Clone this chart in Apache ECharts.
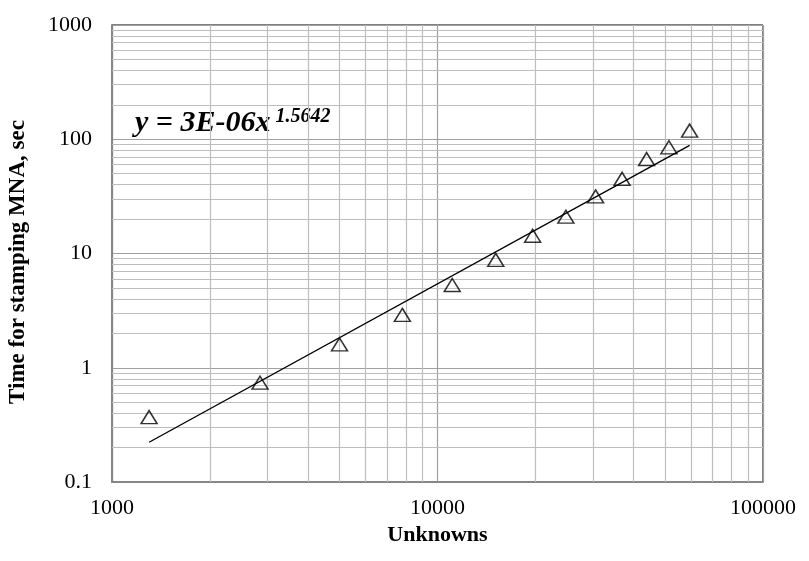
<!DOCTYPE html>
<html>
<head>
<meta charset="utf-8">
<script src="https://cdn.jsdelivr.net/npm/echarts@6/dist/echarts.min.js"></script>
<style>
  html, body { margin: 0; padding: 0; background: #fff; }
  #chart { width: 809px; height: 561px; }
</style>
</head>
<body>
<div id="chart"></div>
<script>
// Measured stamping time against number of unknowns
const unknowns = [1300, 2850, 5000, 7800, 11100, 15100, 19600, 24800, 30600, 36900, 43900, 51400, 59500];
const stampTime = [0.37, 0.74, 1.6, 2.9, 5.3, 8.8, 14.3, 21, 31.6, 45, 67, 85, 119];

// Power-law trend: y = a * x^b
const trendCoef = 3e-6;
const trendExp = 1.5642;

const xTicks = [1000, 10000, 100000];
const xTickLabels = ['1000', '10000', '100000'];
const yTicks = [0.1, 1, 10, 100, 1000];
const yTickLabels = ['0.1', '1', '10', '100', '1000'];

const serif = '"Liberation Serif", "Times New Roman", serif';

function tickLabel(ticks, labels) {
  return function (v) {
    let best = 0, bestD = Infinity;
    ticks.forEach(function (t, i) {
      const d = Math.abs(Math.log10(t) - Math.log10(v));
      if (d < bestD) { bestD = d; best = i; }
    });
    return bestD < 1e-6 ? labels[best] : '';
  };
}

// minor log grid: 2..9 within each decade
function minorValues(ticks) {
  const out = [];
  for (let i = 0; i < ticks.length - 1; i++) {
    for (let k = 2; k <= 9; k++) out.push(ticks[i] * k);
  }
  return out;
}

const trendData = [unknowns[0], unknowns[unknowns.length - 1]].map(function (x) {
  return [x, trendCoef * Math.pow(x, trendExp)];
});

const minorLineStyle = { color: '#bdbdbd', width: 1.2, type: 'solid' };
const minorMarks = minorValues(xTicks).map(function (v) { return { xAxis: v }; })
  .concat(minorValues(yTicks).map(function (v) { return { yAxis: v }; }));

const chart = echarts.init(document.getElementById('chart'), null, { renderer: 'canvas' });

chart.setOption({
  animation: false,
  backgroundColor: '#ffffff',
  grid: {
    left: 112, right: 46, top: 25, bottom: 79,
    show: true, borderColor: '#000000', borderWidth: 1, backgroundColor: 'transparent'
  },
  xAxis: {
    type: 'log', logBase: 10, min: 1000, max: 100000,
    axisLine: { show: true, lineStyle: { color: '#868686', width: 2 } },
    axisTick: { show: false },
    axisLabel: { formatter: tickLabel(xTicks, xTickLabels), color: '#000', fontFamily: serif, fontSize: 22, margin: 15 },
    splitLine: { show: true, lineStyle: { color: '#a0a0a0', width: 1.2 } },
    name: 'Unknowns', nameLocation: 'middle', nameGap: 42,
    nameTextStyle: { color: '#000', fontFamily: serif, fontSize: 22, fontWeight: 'bold' }
  },
  yAxis: {
    type: 'log', logBase: 10, min: 0.1, max: 1000,
    axisLine: { show: true, lineStyle: { color: '#868686', width: 2 } },
    axisTick: { show: false },
    axisLabel: { formatter: tickLabel(yTicks, yTickLabels), color: '#000', fontFamily: serif, fontSize: 22, margin: 20 },
    splitLine: { show: true, lineStyle: { color: '#a0a0a0', width: 1.2 } }
  },
  graphic: [
    {
      type: 'text', x: 18, y: 262, rotation: Math.PI / 2,
      style: {
        text: 'Time for stamping MNA, sec', fill: '#000',
        font: 'bold 23px ' + serif, align: 'center', verticalAlign: 'middle'
      }
    },
    {
      type: 'text', x: 135, y: 123,
      style: {
        text: '{a|y = 3E-06x}{b|1.5642}',
        verticalAlign: 'middle', align: 'left',
        rich: {
          a: { font: 'italic bold 30px ' + serif, fill: '#000', lineHeight: 34 },
          b: { font: 'italic bold 20px ' + serif, fill: '#000', lineHeight: 34, verticalAlign: 'top', padding: [1, 0, 0, 5] }
        }
      }
    }
  ],
  series: [
    {
      name: 'grid', type: 'line', data: [], z: 1, silent: true,
      markLine: {
        silent: true, symbol: 'none', label: { show: false }, z: 1,
        lineStyle: minorLineStyle, emphasis: { disabled: true },
        data: minorMarks
      }
    },
    {
      name: 'trend', type: 'line', data: trendData, z: 6,
      showSymbol: false, silent: true,
      lineStyle: { color: '#000', width: 1.4 }
    },
    {
      name: 'time', type: 'scatter', data: unknowns.map(function (x, i) { return [x, stampTime[i]]; }),
      z: 7, symbol: 'triangle', symbolSize: [16, 13],
      itemStyle: { color: 'rgba(255,255,255,0)', borderColor: '#000', borderWidth: 1.5 }
    }
  ]
});
</script>
</body>
</html>
